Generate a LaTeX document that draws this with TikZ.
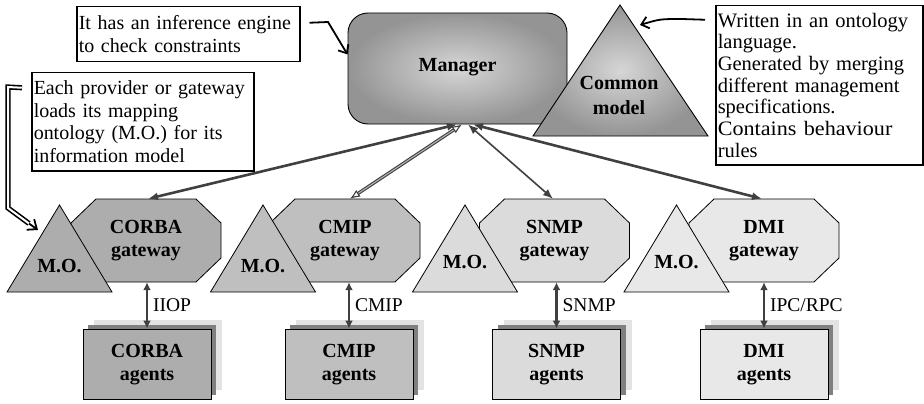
\documentclass[tikz,border=0pt]{standalone}
\usepackage{fontspec}
\usepackage{graphicx}
\setmainfont{Liberation Serif}
\usetikzlibrary{arrows.meta}

\definecolor{corbafill}{gray}{0.68}
\definecolor{cmipfill}{gray}{0.75}
\definecolor{snmpfill}{gray}{0.86}
\definecolor{dmifill}{gray}{0.91}
\definecolor{shdark}{gray}{0.50}
\definecolor{shlight}{gray}{0.89}
\definecolor{linkgray}{gray}{0.25}
\definecolor{mgrin}{gray}{0.84}
\definecolor{mgrout}{gray}{0.58}

\tikzset{
  callout/.style={draw=black, line width=1.5pt, fill=white, anchor=north west, align=left, inner xsep=2pt, inner ysep=0pt, font=\fontsize{20}{22.7}\selectfont},
  boldlbl/.style={font=\fontsize{20}{23.5}\selectfont\bfseries, align=center},
  shapeline/.style={draw=black, line width=0.8pt},
  gwnode/.style={boldlbl, minimum width=150pt, minimum height=83pt, inner sep=0pt},
  agentnode/.style={boldlbl, draw=black, line width=0.9pt, minimum width=128pt, minimum height=70pt, inner sep=0pt},
  monode/.style={boldlbl, inner sep=0pt},
  protolbl/.style={font=\fontsize{19.5}{21}\selectfont, anchor=west, inner sep=2pt},
  protoarrow/.style={draw=linkgray, line width=2.2pt, {Latex[length=8pt,width=8pt]}-{Latex[length=8pt,width=8pt]}},
  tiplink/.style={draw=linkgray, {Latex[length=10pt,width=8pt]}-{Latex[length=10pt,width=8pt]}},
  noteline/.style={draw=black, line width=1.8pt, -{Straight Barb[length=7pt,width=12pt]}},
  barbonly/.style={draw=black, line width=1.8pt, -{Straight Barb[length=8pt,width=13pt]}},
}

\newcommand\mkunit[8]{%
  \path[shapeline, fill=#5] (#2-50,199) -- (#2+50,199) -- (#2+75,223) -- (#2+75,258) -- (#2+50,282) -- (#2-50,282) -- (#2-75,258) -- (#2-75,223) -- cycle;
  \path[shapeline, fill=#5] (#3,205) -- (#3+52.5,292) -- (#3-52.5,292) -- cycle;
  \node[gwnode] (gw#1) at (#2,240.5) {#6\\gateway};
  \node[monode] (mo#1) at (#3,#8) {M.O.};
  \path[fill=shlight] (#4-53,320) rectangle ++(128,70);
  \path[fill=shdark] (#4-59,325) rectangle ++(128,70);
  \node[agentnode, fill=#5] (ag#1) at (#4,364) {\raisebox{3pt}{\begin{tabular}{@{}c@{}}#6\\[-0.5pt]agents\end{tabular}}};
  \draw[protoarrow] (ag#1.north) -- (ag#1.north |- gw#1.south) node[protolbl, midway, xshift=3pt] {#7};
}

\begin{document}
\begin{tikzpicture}[x=1pt, y=-1pt]
\useasboundingbox (0,0) rectangle (924,404);
\fill[white] (0,0) rectangle (924,404);

% manager
\node[boldlbl, draw=black, line width=0.9pt, rounded corners=20pt, minimum width=219pt, minimum height=111pt, inner color=mgrin, outer color=mgrout] (mgr) at (457.5,68.5) {\raisebox{8pt}{Manager}};

% common model
\coordinate (cmtop) at (620,5);
\coordinate (cmleft) at (533,136);
\coordinate (cmright) at (708,136);
\shade[draw=black, line width=0.9pt, inner color=mgrin, outer color=mgrout] (cmtop) -- (cmright) -- (cmleft) -- cycle;
\node[boldlbl] (cm) at (619,95.5) {Common\\[1.5pt]model};

% units
\mkunit{1}{146}{59.5}{147}{corbafill}{CORBA}{IIOP}{266}
\mkunit{2}{345}{263}{349}{cmipfill}{CMIP}{CMIP}{266}
\mkunit{3}{554.5}{465}{556.5}{snmpfill}{SNMP}{SNMP}{262}
\mkunit{4}{764}{676.5}{764}{dmifill}{DMI}{IPC/RPC}{262}

% manager links
\draw[tiplink, line width=2.6pt] ([xshift=-0.5pt]mgr.south) -- ([xshift=2pt]gw1.north);
\draw[draw=linkgray, double=gray!60, line width=1.1pt, double distance=1.1pt, {Latex[open,length=10pt,width=8pt]}-{Latex[open,length=10pt,width=8pt]}] ([xshift=4.5pt]mgr.south) -- ([xshift=5pt]gw2.north);
\draw[tiplink, line width=1.6pt] ([xshift=10.5pt]mgr.south) -- ([xshift=-1.5pt]gw3.north);
\draw[tiplink, line width=2.6pt] ([xshift=15.5pt]mgr.south) -- ([xshift=-2pt]gw4.north);

% callouts
\node[callout, text width=219pt, minimum height=55pt] (c1) at (76,6) {It has an inference engine\\to check constraints};
\node[callout, text width=218pt, minimum height=98pt] (c2) at (31,72) {Each provider or gateway\\loads its mapping\\ontology (M.O.) for its\\information model};
\node[callout, text width=203pt, minimum height=159pt, font=\fontsize{20.5}{21.7}\selectfont] (c3) at (715,5) {\makebox[199pt][s]{Written in an ontology}\\language.\\\makebox[201pt][s]{Generated by merging}\\\makebox[199pt][s]{different management}\\specifications.\\\scalebox{1.08}[1]{Contains behaviour}\\rules};

% callout arrows
\coordinate (k1) at (328,22);
\draw[noteline] ([xshift=9pt,yshift=11.5pt]c1.east) -- (k1) -- ([yshift=14pt]mgr.west);

\coordinate (k2) at (682,19);
\coordinate (k3) at (660,19);
\coordinate (k3t) at (640,25);
\draw[noteline] ([xshift=-10pt,yshift=65.5pt]c3.west) -- (k2) .. controls (k3) .. (k3t);

\coordinate (k4) at (8,87);
\coordinate (k5) at (8,208);
\coordinate (k6) at (29,223.5);
\coordinate (k7) at (38,230);
\draw[draw=black, double=white, line width=1.6pt, double distance=2pt] ([xshift=-9pt,yshift=34pt]c2.west) -- (k4) -- (k5) -- (k6);
\draw[barbonly] (k6) -- (k7);
\end{tikzpicture}
\end{document}
